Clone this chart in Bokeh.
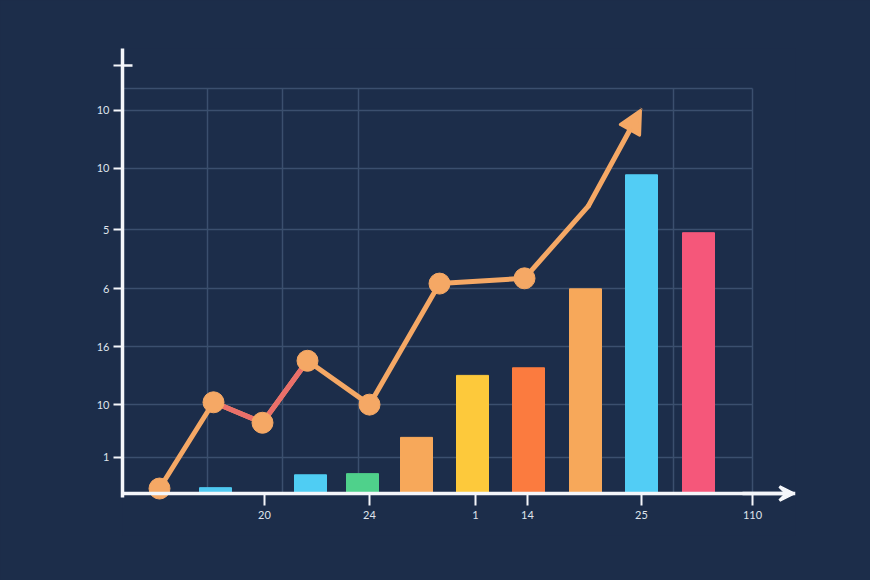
from bokeh.plotting import figure
from bokeh.models import Range1d, FixedTicker, Arrow, NormalHead, VeeHead, ColumnDataSource
from bokeh.embed import file_html
from bokeh.resources import INLINE

# --- data ---------------------------------------------------------------
bar_x = [9.3, 18.8, 24.0, 29.4, 35.0, 40.6, 46.3, 51.9, 57.6]
bar_values = [0.10, 0.32, 0.34, 0.96, 2.02, 2.15, 3.50, 5.45, 4.46]
bar_colors = ["#4fc8f0", "#4fcdf3", "#4fd18b", "#f7a85a", "#fdc93b",
              "#fb7b3f", "#f7a85a", "#52cdf5", "#f5577a"]

trend_x = [3.7, 9.1, 14.0, 18.5, 24.7, 31.7, 40.2, 46.6]
trend_y = [0.085, 1.56, 1.21, 2.27, 1.52, 3.59, 3.68, 4.92]
trend_end = (51.8, 6.55)   # arrow tip of the trend line

y_ticks = [0.62, 1.52, 2.51, 3.50, 4.51, 5.56, 6.55]
y_labels = ["1", "10", "16", "6", "5", "10", "10"]
y_cap = 7.32               # unlabelled cross tick near the top of the y axis
x_ticks = [14.2, 24.7, 35.3, 40.5, 51.9, 63.0]
x_labels = ["20", "24", "1", "14", "25", "110"]
x_grid = [8.5, 16.0, 23.6, 55.1, 63.0]
y_grid_extra = [6.92]

# --- styling -------------------------------------------------------------
BG = "#1c2d4a"
GRID = "#3b4f6e"
AXIS = "#f4f6fa"
LABEL = "#dfe4ec"
ORANGE = "#f5a865"
RED = "#ea6f6a"

p = figure(width=870, height=580, output_backend="svg", toolbar_location=None,
           x_range=Range1d(0, 67.3), y_range=Range1d(-0.718, 7.61),
           min_border_left=122, min_border_right=75,
           min_border_top=48, min_border_bottom=45)
p.background_fill_color = BG
p.border_fill_color = BG
p.outline_line_color = None
p.styles = {"background-color": BG}

# grid
p.xgrid.ticker = FixedTicker(ticks=x_grid)
p.ygrid.ticker = FixedTicker(ticks=y_ticks + y_grid_extra)
for g in (p.xgrid, p.ygrid):
    g.grid_line_color = GRID
    g.grid_line_width = 1.5
p.xgrid.cross_bounds = (0, 6.92)
p.ygrid.cross_bounds = (0, 63.0)

# axes: the x axis sits on the zero baseline inside the frame
p.xaxis.fixed_location = 0
p.xaxis.ticker = FixedTicker(ticks=x_ticks)
p.xaxis.major_label_overrides = {t: l for t, l in zip(x_ticks, x_labels)}
p.yaxis.ticker = FixedTicker(ticks=y_ticks + [y_cap])
p.yaxis.bounds = (-0.07, 7.61)
overrides = {t: l for t, l in zip(y_ticks, y_labels)}
overrides[y_cap] = ""
p.yaxis.major_label_overrides = overrides
for ax in (p.xaxis, p.yaxis):
    ax.axis_line_color = AXIS
    ax.axis_line_width = 3.5
    ax.major_tick_line_color = AXIS
    ax.major_tick_line_width = 2
    ax.major_tick_in = 0
    ax.minor_tick_line_color = None
    ax.major_label_text_color = LABEL
    ax.major_label_text_font = "Lato"
    ax.major_label_text_font_size = "11px"
p.xaxis.major_tick_out = 12
p.xaxis.major_label_standoff = 5
p.yaxis.major_tick_out = 9
p.yaxis.major_label_standoff = 4

# bars
bars = ColumnDataSource(dict(x=bar_x, top=bar_values, color=bar_colors))
p.vbar(x="x", top="top", bottom=0, width=3.2, color="color", source=bars)

# trend line with markers
p.line(trend_x, trend_y, line_color=ORANGE, line_width=5, line_join="round", line_cap="round")
p.line(trend_x[1:4], trend_y[1:4], line_color=RED, line_width=5, line_join="round", line_cap="round")
p.scatter(trend_x[:7], trend_y[:7], size=21, fill_color=ORANGE, line_color=ORANGE)
p.add_layout(Arrow(x_start=trend_x[-1], y_start=trend_y[-1],
                   x_end=trend_end[0], y_end=trend_end[1],
                   line_color=ORANGE, line_width=5, line_cap="round",
                   end=NormalHead(size=22, fill_color=ORANGE, line_color=ORANGE,
                                  line_width=3, line_join="round")))

# arrow cap on the x axis and right half of the top cross tick
p.add_layout(Arrow(x_start=62.0, y_start=0, x_end=67.1, y_end=0,
                   line_color=AXIS, line_width=3.5,
                   end=VeeHead(size=14, line_color=AXIS, line_width=3, fill_color=AXIS)))
p.segment(x0=[0.0], y0=[y_cap], x1=[1.0], y1=[y_cap], line_color=AXIS, line_width=2.5)

open("out.html", "w").write(file_html(p, INLINE))
